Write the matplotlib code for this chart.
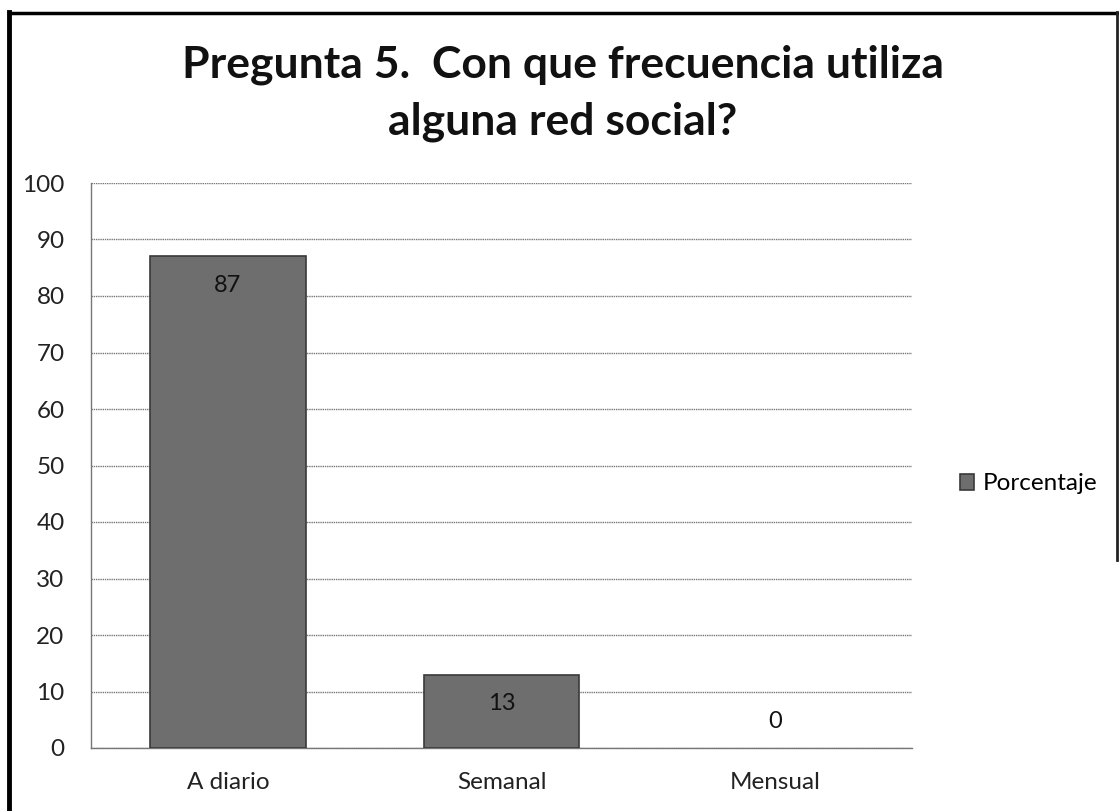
import numpy as np
import matplotlib.pyplot as plt
from matplotlib.lines import Line2D

plt.rcParams['font.family'] = ['Lato', 'DejaVu Sans']

categorias = ['A diario', 'Semanal', 'Mensual']
porcentaje = [87, 13, 0]
serie = 'Porcentaje'
titulo = 'Pregunta 5.  Con que frecuencia utiliza\nalguna red social?'

W, H = 1119, 811
fig = plt.figure(figsize=(W / 100, H / 100), dpi=100)
ax = fig.add_axes([91 / W, 1 - 748 / H, (912 - 91) / W, (748 - 183) / H])

x = np.arange(len(categorias))
bordes = ['#3a3a3a' if v > 0 else 'none' for v in porcentaje]
ax.bar(x, porcentaje, width=0.57, color='#6e6e6e', edgecolor=bordes,
       linewidth=1.2, label=serie, zorder=3)

for xi, v in zip(x, porcentaje):
    dy = -21 if v > 0 else 19
    ax.annotate(str(v), (xi, v), xytext=(0, dy), textcoords='offset points',
                ha='center', va='center', fontsize=17, color='#111111')

ax.set_xlim(-0.5, 2.5)
ax.set_ylim(0, 100)
ax.set_yticks(range(0, 101, 10))
ax.set_xticks(x)
ax.set_xticklabels(categorias)
ax.tick_params(axis='both', length=0, labelsize=17.5, colors='#222222')
ax.tick_params(axis='y', pad=19)
ax.tick_params(axis='x', pad=17)
ax.yaxis.grid(True, color='#777777', linewidth=1.0, linestyle=(0, (1, 0.6)), zorder=0)
for s in ['top', 'right']:
    ax.spines[s].set_visible(False)
for s in ['left', 'bottom']:
    ax.spines[s].set_color('#777777')
    ax.spines[s].set_linewidth(1.0)

ax.legend(loc='center left', bbox_to_anchor=(938 / W, 1 - 484 / H),
          bbox_transform=fig.transFigure, frameon=False, fontsize=17.5,
          handlelength=0.6, handleheight=0.6, handletextpad=0.35)

fig.text(563 / W, 1 - 93 / H, titulo, ha='center', va='center', fontsize=32,
         fontweight='bold', linespacing=1.5, color='#111111')

# marco exterior
fig.add_artist(Line2D([9 / W, 9 / W], [0, 1 - 12 / H], transform=fig.transFigure,
                      color='black', linewidth=3.5))
fig.add_artist(Line2D([9 / W, 1117 / W], [1 - 13 / H, 1 - 13 / H], transform=fig.transFigure,
                      color='black', linewidth=2.5))
fig.add_artist(Line2D([1117 / W, 1117 / W], [1 - 12 / H, 1 - 560 / H], transform=fig.transFigure,
                      color='#222222', linewidth=2))

fig.savefig('out.png', dpi=100)
